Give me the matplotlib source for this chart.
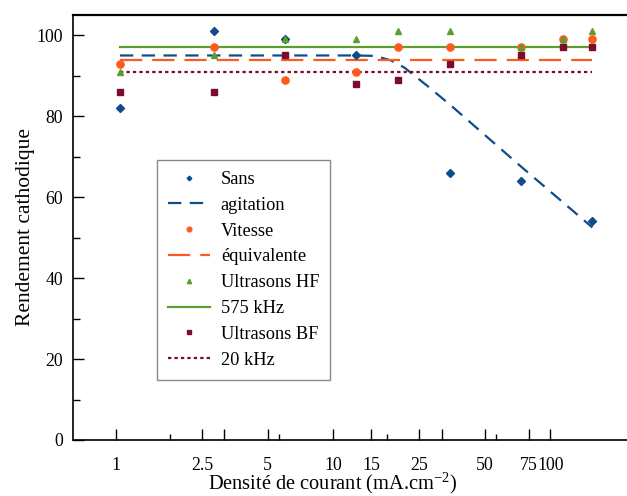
import numpy as np
import matplotlib.pyplot as plt
from matplotlib.lines import Line2D
from matplotlib.ticker import FixedLocator, NullLocator, NullFormatter

plt.rcParams['font.family'] = 'Liberation Serif'
plt.rcParams['mathtext.fontset'] = 'custom'
plt.rcParams['mathtext.rm'] = 'Liberation Serif'
plt.rcParams['mathtext.it'] = 'Liberation Serif:italic'

# densite de courant (mA.cm-2)
densite = [1, 2.5, 5, 10, 15, 25, 50, 75, 100]

# rendement cathodique
sans = [82, 101, 99, 95, np.nan, 66, 64, np.nan, 54]
vitesse = [93, 97, 89, 91, 97, 97, 97, 99, 99]
us_hf = [91, 95, 99, 99, 101, 101, 97, 99, 101]
us_bf = [86, 86, 95, 88, 89, 93, 95, 97, 97]

# courbes de tendance
tend_sans_x = [1, 10, 12, 14, 16, 20, 25, 50, 100]
tend_sans_y = [95, 95, 94.9, 93.8, 92.0, 87.5, 82.8, 67.5, 52.5]
tend_vitesse = 94
tend_hf = 97
tend_bf = 91

# graduations de l'axe x (decalees par rapport aux donnees, comme dans l'original)
xtick_vals = [1, 2.5, 5, 10, 15, 25, 50, 80, 100]
xtick_labels = ['1', '2.5', '5', '10', '15', '25', '50', '75', '100']
xtick_extra = [3.16, 31.6]
xtick_minor = [1.78, 5.62, 17.8, 56.2]

c_bleu = '#0f4c8a'
c_orange = '#ff5a1e'
c_vert = '#5c9e2e'
c_bordeaux = '#7b0c2c'

W, H = 627, 496
fig = plt.figure(figsize=(W/100, H/100), dpi=100)
ax = fig.add_axes([72.7/W, 56/H, (640-72.7)/W, (440-15)/H])

xr = [densite[0], densite[-1]]
ax.plot(tend_sans_x, tend_sans_y, color=c_bleu, lw=1.6, dashes=(6, 3.8))
ax.plot(xr, [tend_vitesse]*2, color=c_orange, lw=1.6, dashes=(10, 4.5))
ax.plot(xr, [tend_hf]*2, color=c_vert, lw=1.6)
ax.plot(xr, [tend_bf]*2, color=c_bordeaux, lw=1.6, dashes=(1.5, 1.4))

ax.plot(densite, sans, 'D', color=c_bleu, ms=3.6, ls='none')
ax.plot(densite, vitesse, 'o', color=c_orange, ms=5.2, ls='none')
ax.plot(densite, us_hf, '^', color=c_vert, ms=4.8, ls='none')
ax.plot(densite, us_bf, 's', color=c_bordeaux, ms=4.8, ls='none')

ax.set_xscale('log')
ax.set_xlim(0.631, 159.0)
ax.set_ylim(0, 105)
ax.set_yticks([0, 20, 40, 60, 80, 100])
ax.set_yticks([10, 30, 50, 70, 90], minor=True)
ax.tick_params(axis='y', which='major', direction='in', length=8, width=1, pad=6.8, labelsize=12.8)
ax.tick_params(axis='y', which='minor', direction='in', length=4.7, width=1)
ax.set_ylabel('Rendement cathodique', fontsize=15.5)
ax.yaxis.set_label_coords(-0.067, 0.5)
for s in ax.spines.values():
    s.set_linewidth(1.2)
ax.spines['top'].set_linewidth(1.6)

# axe des graduations x
ax2 = ax.twiny()
ax.xaxis.set_major_locator(NullLocator())
ax.xaxis.set_minor_locator(NullLocator())
ax2.set_xscale('log')
ax2.set_xlim(0.634, 258.8)
ax2.xaxis.set_ticks_position('bottom')
ax2.xaxis.set_label_position('bottom')
for s in ax2.spines.values():
    s.set_visible(False)
ax2.set_xticks(xtick_vals + xtick_extra)
ax2.set_xticklabels(xtick_labels + [''] * len(xtick_extra))
ax2.xaxis.set_minor_locator(FixedLocator(xtick_minor))
ax2.xaxis.set_minor_formatter(NullFormatter())
ax2.tick_params(axis='x', which='major', direction='in', length=8, width=1, pad=12.3, labelsize=12.8)
ax2.tick_params(axis='x', which='minor', direction='in', length=4.5, width=1)
ax2.set_xlabel('Densité de courant (mA.cm$^{-2}$)', fontsize=14.7)
ax2.xaxis.set_label_coords((332-72.7)/(640-72.7), -0.072)

handles = [
    Line2D([], [], marker='D', color=c_bleu, ms=3.6, ls='none'),
    Line2D([], [], color=c_bleu, lw=1.6, dashes=(6, 3.8)),
    Line2D([], [], marker='o', color=c_orange, ms=5.2, ls='none'),
    Line2D([], [], color=c_orange, lw=1.6, dashes=(10, 4.5)),
    Line2D([], [], marker='^', color=c_vert, ms=4.8, ls='none'),
    Line2D([], [], color=c_vert, lw=1.6),
    Line2D([], [], marker='s', color=c_bordeaux, ms=4.8, ls='none'),
    Line2D([], [], color=c_bordeaux, lw=1.6, dashes=(1.5, 1.4)),
]
labels = ['Sans', 'agitation', 'Vitesse', 'équivalente', 'Ultrasons HF',
          '575 kHz', 'Ultrasons BF', '20 kHz']
leg = fig.legend(handles, labels, loc='upper left',
                 bbox_to_anchor=(156.7/W, 1-160/H), borderaxespad=0,
                 fontsize=13.2, markerscale=0.65, handlelength=2.3,
                 handletextpad=0.6, borderpad=0.6, labelspacing=0.48,
                 fancybox=False, framealpha=1, edgecolor='#888888')
leg.get_frame().set_linewidth(1.0)

fig.savefig('out.png', dpi=100)
